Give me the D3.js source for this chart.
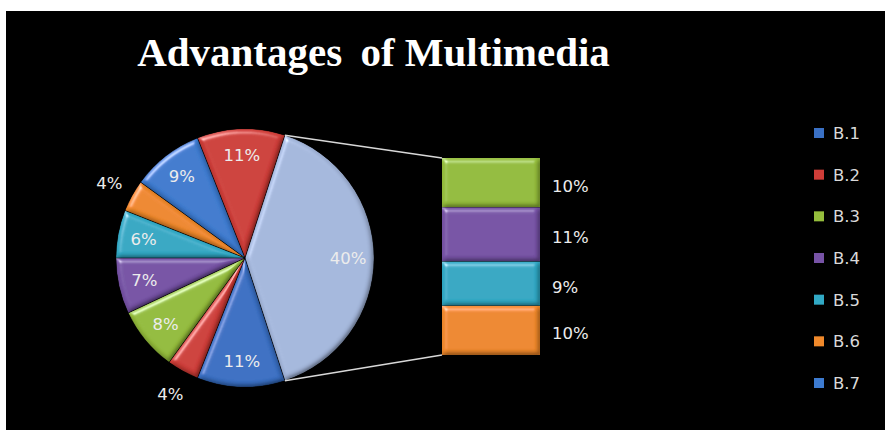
<!DOCTYPE html>
<html>
<head>
<meta charset="utf-8">
<script src="https://cdn.jsdelivr.net/npm/d3@7"></script>
<style>
  html, body { margin: 0; padding: 0; background: #ffffff; }
  svg { display: block; }
</style>
</head>
<body>
<svg id="chart" width="886" height="430"></svg>
<script>
// Survey shares per benefit (percent)
const categories = ["B.1", "B.2", "B.3", "B.4", "B.5", "B.6", "B.7", "B.8", "B.9", "B.10", "B.11", "B.12"];
const values = [11, 4, 8, 7, 6, 4, 9, 11, 10, 11, 9, 10];
// the last points are split out of the pie into the stacked bar
const splitCount = 4;
const legendCategories = ["B.1", "B.2", "B.3", "B.4", "B.5", "B.6", "B.7"];
const titleWords = ["Advantages", "of Multimedia"];

const palette = ["#3a70c4", "#cf3d38", "#95bd3c", "#7753a6", "#31a9c5", "#f0892b",
                 "#3d7bd0", "#cf3d38", "#95bd3c", "#7753a6", "#31a9c5", "#f0892b"];
const otherColor = "#a6b9de";

const svg = d3.select("#chart");
const W = 886, H = 430;

// black plot background inside a thin white margin
svg.append("rect").attr("x", 6).attr("y", 11).attr("width", W - 7).attr("height", H - 11).attr("fill", "#000");

// bevel lighting used on slices and bar segments
const defs = svg.append("defs");
const f = defs.append("filter").attr("id", "bevel")
  .attr("x", "-5%").attr("y", "-5%").attr("width", "110%").attr("height", "110%");
f.append("feGaussianBlur").attr("in", "SourceAlpha").attr("stdDeviation", 2.5).attr("result", "blur");
// diffuse term: darkens edges facing away from the light, flat areas stay at ~1
const diff = f.append("feDiffuseLighting").attr("in", "blur").attr("surfaceScale", 3)
  .attr("diffuseConstant", 1).attr("lighting-color", "#ffffff").attr("result", "diff");
diff.append("feDistantLight").attr("azimuth", 235).attr("elevation", 60);
f.append("feComposite").attr("in", "SourceGraphic").attr("in2", "diff").attr("operator", "arithmetic")
  .attr("k1", 1.12).attr("k2", 0).attr("k3", 0).attr("k4", 0).attr("result", "shaded");
// specular rim on edges facing the light
const spec = f.append("feSpecularLighting").attr("in", "blur").attr("surfaceScale", 4)
  .attr("specularConstant", 0.9).attr("specularExponent", 25).attr("lighting-color", "#ffffff").attr("result", "spec");
spec.append("feDistantLight").attr("azimuth", 235).attr("elevation", 30);
f.append("feComposite").attr("in", "spec").attr("in2", "SourceAlpha").attr("operator", "in").attr("result", "specIn");
f.append("feComposite").attr("in", "shaded").attr("in2", "specIn").attr("operator", "arithmetic")
  .attr("k1", 0).attr("k2", 1).attr("k3", 0.5).attr("k4", 0).attr("result", "lit");
f.append("feComposite").attr("in", "lit").attr("in2", "SourceAlpha").attr("operator", "in");

const fontLabel = "'DejaVu Sans', Verdana, sans-serif";

// title (a little extra room after the first word)
const title = svg.append("text")
  .attr("x", 373.5).attr("y", 66)
  .attr("text-anchor", "middle")
  .attr("font-family", "'Liberation Serif', 'Times New Roman', serif")
  .attr("font-weight", "bold").attr("font-size", 41)
  .attr("fill", "#ffffff");
title.append("tspan").text(titleWords[0]);
title.append("tspan").attr("dx", 8).text(" " + titleWords[1]);

// ---- pie ----
const cx = 245, cy = 258, R = 129;
const nPie = values.length - splitCount;
const otherValue = d3.sum(values.slice(nPie));
const total = d3.sum(values);

const pieItems = [{ key: "Other", value: otherValue, color: otherColor }]
  .concat(values.slice(0, nPie).map((v, i) => ({ key: categories[i], value: v, color: palette[i] })));

// "Other" slice centred on the right-hand side, pointing at the bar
const start = Math.PI / 2 - (otherValue / total) * Math.PI;
const pie = d3.pie().sort(null).value(d => d.value).startAngle(start).endAngle(start + 2 * Math.PI);
const arcs = pie(pieItems);
const arc = d3.arc().innerRadius(0).outerRadius(R);
const labelArcIn = d3.arc().innerRadius(R * 0.8).outerRadius(R * 0.8);
const labelArcOut = d3.arc().innerRadius(R * 1.2).outerRadius(R * 1.2);

const gPie = svg.append("g").attr("transform", `translate(${cx},${cy})`);
gPie.selectAll("path.slice").data(arcs).join("path")
  .attr("class", "slice")
  .attr("d", arc)
  .attr("fill", d => d.data.color)
  .attr("filter", "url(#bevel)");
gPie.selectAll("path.edge").data(arcs).join("path")
  .attr("class", "edge")
  .attr("d", arc)
  .attr("fill", "none")
  .attr("stroke", "rgba(0,0,0,0.3)").attr("stroke-width", 1);

gPie.selectAll("text.plabel").data(arcs).join("text")
  .attr("class", "plabel")
  .attr("transform", d => `translate(${(d.data.value < 5 ? labelArcOut : labelArcIn).centroid(d)})`)
  .attr("text-anchor", "middle").attr("dy", "0.36em")
  .attr("font-family", fontLabel).attr("font-size", 16.5)
  .attr("fill", "#ececec")
  .text(d => d.data.value + "%");

// ---- stacked bar of the split-out points ----
const barItems = values.slice(nPie).map((v, i) => ({ key: categories[nPie + i], value: v, color: palette[nPie + i] }));
let acc = 0;
barItems.forEach(d => { d.y0 = acc; acc += d.value; d.y1 = acc; });

const barX = 442, barW = 98;
const y = d3.scaleLinear().domain([0, otherValue]).range([158, 355]);

// connector lines from the Other slice edges to the bar corners
const aTop = arcs[0].startAngle, aBot = arcs[0].endAngle;
const lineData = [
  [[cx + R * Math.sin(aTop), cy - R * Math.cos(aTop)], [barX, y(0)]],
  [[cx + R * Math.sin(aBot), cy - R * Math.cos(aBot)], [barX, y(otherValue)]]
];
svg.selectAll("line.conn").data(lineData).join("line")
  .attr("class", "conn")
  .attr("x1", d => d[0][0]).attr("y1", d => d[0][1])
  .attr("x2", d => d[1][0]).attr("y2", d => d[1][1])
  .attr("stroke", "#d8d8d8").attr("stroke-width", 1.5);

svg.selectAll("rect.seg").data(barItems).join("rect")
  .attr("class", "seg")
  .attr("x", barX).attr("width", barW)
  .attr("y", d => y(d.y0)).attr("height", d => y(d.y1) - y(d.y0))
  .attr("fill", d => d.color)
  .attr("filter", "url(#bevel)");

svg.selectAll("text.blabel").data(barItems).join("text")
  .attr("class", "blabel")
  .attr("x", barX + barW + 12)
  .attr("y", d => (y(d.y0) + y(d.y1)) / 2 + 3)
  .attr("dy", "0.36em")
  .attr("font-family", fontLabel).attr("font-size", 16.5)
  .attr("fill", "#ececec")
  .text(d => d.value + "%");

// ---- legend ----
const ly = d3.scalePoint().domain(legendCategories).range([133, 383]);
const lg = svg.selectAll("g.leg").data(legendCategories).join("g")
  .attr("class", "leg")
  .attr("transform", d => `translate(814,${ly(d)})`);
lg.append("rect").attr("x", 0).attr("y", -5).attr("width", 10).attr("height", 10)
  .attr("fill", d => palette[categories.indexOf(d)]);
lg.append("text").attr("x", 19).attr("dy", "0.36em")
  .attr("font-family", fontLabel).attr("font-size", 16.5)
  .attr("fill", "#d9d9d9")
  .text(d => d);
</script>
</body>
</html>
